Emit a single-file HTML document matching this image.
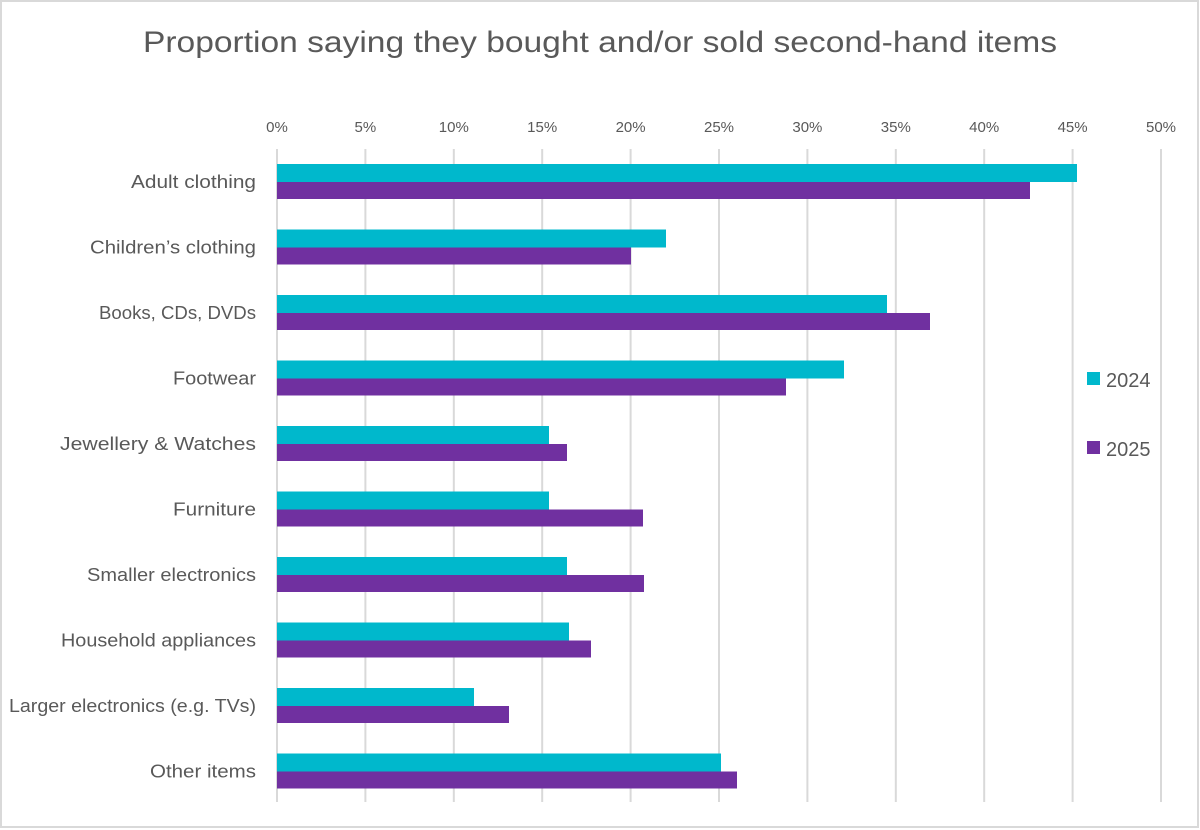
<!DOCTYPE html>
<html><head><meta charset="utf-8"><style>
html,body{margin:0;padding:0;background:#fff;}
svg{display:block;font-family:"Liberation Sans",sans-serif;}
</style></head><body>
<svg width="1200" height="830" viewBox="0 0 1200 830">
<rect x="1" y="1" width="1197" height="826" fill="#fff" stroke="#d9d9d9" stroke-width="2"/>
<text x="143" y="52" font-size="30" fill="#595959" textLength="914" lengthAdjust="spacingAndGlyphs">Proportion saying they  bought and/or sold second-hand items</text>
<g stroke="#d9d9d9" stroke-width="2">
<line x1="277" y1="149" x2="277" y2="802"/>
<line x1="365.4" y1="149" x2="365.4" y2="802"/>
<line x1="453.8" y1="149" x2="453.8" y2="802"/>
<line x1="542.2" y1="149" x2="542.2" y2="802"/>
<line x1="630.6" y1="149" x2="630.6" y2="802"/>
<line x1="719" y1="149" x2="719" y2="802"/>
<line x1="807.4" y1="149" x2="807.4" y2="802"/>
<line x1="895.8" y1="149" x2="895.8" y2="802"/>
<line x1="984.2" y1="149" x2="984.2" y2="802"/>
<line x1="1072.6" y1="149" x2="1072.6" y2="802"/>
<line x1="1161" y1="149" x2="1161" y2="802"/>
</g>
<g font-size="15" fill="#595959" text-anchor="middle">
<text x="277" y="132">0%</text><text x="365.4" y="132">5%</text><text x="453.8" y="132">10%</text>
<text x="542.2" y="132">15%</text><text x="630.6" y="132">20%</text><text x="719" y="132">25%</text>
<text x="807.4" y="132">30%</text><text x="895.8" y="132">35%</text><text x="984.2" y="132">40%</text>
<text x="1072.6" y="132">45%</text><text x="1161" y="132">50%</text>
</g>
<g fill="#00b8cc">
<rect x="277" y="164" width="800" height="18"/>
<rect x="277" y="229.5" width="389" height="18"/>
<rect x="277" y="295" width="610" height="18"/>
<rect x="277" y="360.5" width="567" height="18"/>
<rect x="277" y="426" width="272" height="18"/>
<rect x="277" y="491.5" width="272" height="18"/>
<rect x="277" y="557" width="290" height="18"/>
<rect x="277" y="622.5" width="292" height="18"/>
<rect x="277" y="688" width="197" height="18"/>
<rect x="277" y="753.5" width="444" height="18"/>
</g>
<g fill="#7030a0">
<rect x="277" y="182" width="753" height="17"/>
<rect x="277" y="247.5" width="354" height="17"/>
<rect x="277" y="313" width="653" height="17"/>
<rect x="277" y="378.5" width="509" height="17"/>
<rect x="277" y="444" width="290" height="17"/>
<rect x="277" y="509.5" width="366" height="17"/>
<rect x="277" y="575" width="367" height="17"/>
<rect x="277" y="640.5" width="314" height="17"/>
<rect x="277" y="706" width="232" height="17"/>
<rect x="277" y="771.5" width="460" height="17"/>
</g>
<g font-size="18" fill="#595959">
<text x="131" y="188" textLength="125" lengthAdjust="spacingAndGlyphs">Adult clothing</text>
<text x="90" y="253.5" textLength="166" lengthAdjust="spacingAndGlyphs">Children’s clothing</text>
<text x="99" y="319" textLength="157" lengthAdjust="spacingAndGlyphs">Books, CDs, DVDs</text>
<text x="173" y="384.5" textLength="83" lengthAdjust="spacingAndGlyphs">Footwear</text>
<text x="60" y="450" textLength="196" lengthAdjust="spacingAndGlyphs">Jewellery &amp; Watches</text>
<text x="173" y="515.5" textLength="83" lengthAdjust="spacingAndGlyphs">Furniture</text>
<text x="87" y="581" textLength="169" lengthAdjust="spacingAndGlyphs">Smaller electronics</text>
<text x="61" y="646.5" textLength="195" lengthAdjust="spacingAndGlyphs">Household appliances</text>
<text x="9" y="712" textLength="247" lengthAdjust="spacingAndGlyphs">Larger electronics (e.g. TVs)</text>
<text x="150" y="777.5" textLength="106" lengthAdjust="spacingAndGlyphs">Other items</text>
</g>
<rect x="1087" y="372" width="13" height="13" fill="#00b8cc"/>
<rect x="1087" y="441" width="13" height="13" fill="#7030a0"/>
<g font-size="20" fill="#595959">
<text x="1106" y="387">2024</text>
<text x="1106" y="456">2025</text>
</g>
</svg>
</body></html>
